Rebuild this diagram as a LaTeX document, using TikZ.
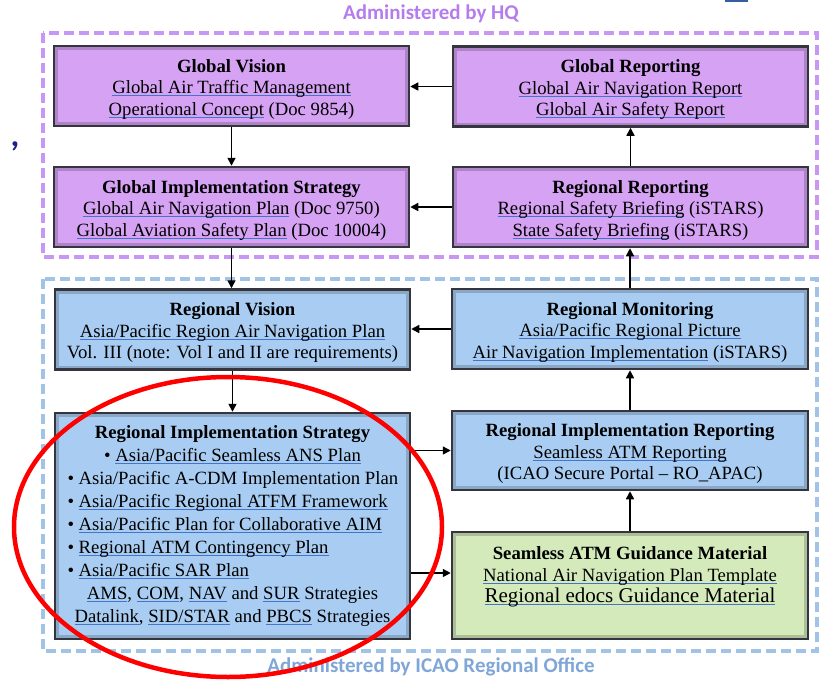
\documentclass[tikz,border=0pt]{standalone}
\usepackage{fontspec}
\setmainfont{Liberation Serif}
\newfontfamily\framefont{Carlito}
\usetikzlibrary{arrows.meta}
\definecolor{hqline}{HTML}{C896F5}
\definecolor{hqtext}{HTML}{B57CEE}
\definecolor{roline}{HTML}{A0C3E6}
\definecolor{rotext}{HTML}{7FA6D6}
\definecolor{hqfill}{HTML}{D6A2F4}
\definecolor{rofill}{HTML}{A9CDF2}
\definecolor{gmfill}{HTML}{D4EABB}
\definecolor{boxline}{HTML}{35353F}
\definecolor{linkblue}{HTML}{4276CC}
\newsavebox\lkbox
\newcommand{\lk}[1]{\sbox\lkbox{#1}\textcolor{linkblue}{\rlap{\rule[-2.4pt]{\wd\lkbox}{0.8pt}}\usebox\lkbox}}
\newcommand{\bl}[1]{\makebox[330pt][l]{\textbullet\ #1}}
\newcommand{\ttl}[1]{\rule{0pt}{19.5pt}\textbf{#1}}

\begin{document}
\begin{tikzpicture}[x=1pt,y=-1pt,
  box/.style={draw=boxline,line width=2.5pt,minimum width=355pt,align=center,inner sep=0pt,font=\fontsize{18.7}{21.5}\selectfont,
    path picture={\draw[black,opacity=0.18,line width=8pt] (path picture bounding box.south west) rectangle (path picture bounding box.north east);}},
  hq/.style={box,fill=hqfill,minimum height=80pt},
  ro/.style={box,fill=rofill,minimum height=80pt},
  arr/.style={line width=1.5pt,-{Triangle[length=8pt,width=8pt]}},
  frametext/.style={font=\framefont\bfseries\fontsize{21}{24}\selectfont}]
\useasboundingbox (0,0) rectangle (819,680);

\draw [hqline,line width=4pt,dash pattern=on 10pt off 5pt] (43,33) rectangle (817,257);
\draw [roline,line width=4pt,dash pattern=on 10pt off 5pt] (43,279) rectangle (817,651);
\node[frametext,text=hqtext] (hq) at (431,14) {Administered by HQ};
\node[frametext,text=rotext] (ro) at (431,667) {Administered by ICAO Regional Office};
\node[font=\framefont\bfseries\fontsize{34}{36}\selectfont,text=boxline!60!blue] (c) at (15,146) {,};
\fill[linkblue!80!black] (725,0) rectangle (748,2);

\node[hq] (1) at (231.5,86) {\ttl{Global Vision}\\ \lk{Global Air Traffic Management}\\ \lk{Operational Concept} (Doc 9854)};
\node[hq] (2) at (231.5,207) {\ttl{Global Implementation Strategy}\\ \lk{Global Air Navigation Plan} (Doc 9750)\\ \lk{Global Aviation Safety Plan} (Doc 10004)};
\node[hq] (3) at (630.5,86.5) {\ttl{Global Reporting}\\ \lk{Global Air Navigation Report}\\ \lk{Global Air Safety Report}};
\node[hq] (4) at (630.5,207) {\ttl{Regional Reporting}\\ \lk{Regional Safety Briefing} (iSTARS)\\ \lk{State Safety Briefing} (iSTARS)};
\node[ro] (5) at (232.5,329.5) {\ttl{Regional Vision}\\ \lk{Asia/Pacific Region Air Navigation Plan}\\ Vol. III (note: Vol I and II are requirements)};
\node[ro,minimum height=226pt,font=\fontsize{18.7}{23}\selectfont] (6) at (232.5,526) {\textbf{Regional Implementation Strategy}\\
  \textbullet\ \lk{Asia/Pacific Seamless ANS Plan}\\
  \bl{Asia/Pacific A-CDM Implementation Plan}\\
  \bl{\lk{Asia/Pacific Regional ATFM Framework}}\\
  \bl{\lk{Asia/Pacific Plan for Collaborative AIM}}\\
  \bl{\lk{Regional ATM Contingency Plan}}\\
  \bl{\lk{Asia/Pacific SAR Plan}}\\
  \lk{AMS}, \lk{COM}, \lk{NAV} and \lk{SUR} Strategies\\
  \lk{Datalink}, \lk{SID/STAR} and \lk{PBCS} Strategies};
\node[ro,minimum width=356pt] (7) at (630,329) {\ttl{Regional Monitoring}\\ \lk{Asia/Pacific Regional Picture}\\ \lk{Air Navigation Implementation} (iSTARS)};
\node[ro,minimum width=356pt,minimum height=79pt] (8) at (630,450.5) {\ttl{Regional Implementation Reporting}\\ \lk{Seamless ATM Reporting}\\ (ICAO Secure Portal -- RO\_APAC)};
\node[box,fill=gmfill,minimum width=356pt,minimum height=107pt] (9) at (630,585.5) {\textbf{Seamless ATM Guidance Material}\\ \lk{National Air Navigation Plan Template}\\ {\fontsize{21}{21.5}\selectfont\lk{Regional edocs Guidance Material}}\\ \mbox{}};

\path[draw,arr] (1.south) -- (2.north);
\path[draw,arr] (3.west) -- (3.west -| 1.east);
\path[draw,arr] (4.west) -- (4.west -| 2.east);
\path[draw,arr] (4.north) -- (3.south);
\path[draw,arr] (2.south) -- (2.south |- 5.north);
\path[draw,arr] (7.north) -- (7.north |- 4.south);
\path[draw,arr] (7.west) -- (7.west -| 5.east);
\path[draw,arr] (5.south) -- (5.south |- 6.north);
\path[draw,arr] (8.west -| 6.east) -- (8.west);
\path[draw,arr] ([yshift=12.5pt]9.west -| 6.east) -- ([yshift=12.5pt]9.west);
\path[draw,arr] (9.north) -- (9.north |- 8.south);
\path[draw,arr] (8.north) -- (8.north |- 7.south);

\draw [red,line width=4.5pt] (228,527) ellipse [x radius=214, y radius=150];
\end{tikzpicture}
\end{document}
